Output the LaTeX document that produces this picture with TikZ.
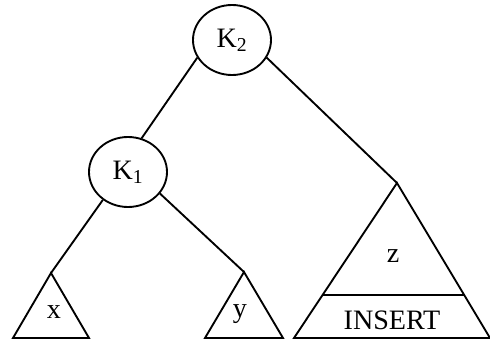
\documentclass[tikz,border=0pt]{standalone}
\usepackage{fontspec}
\setmainfont{Liberation Serif}
\usetikzlibrary{shapes.geometric,calc}

\begin{document}
\begin{tikzpicture}[
    x=0.03cm, y=-0.03cm,
    key/.style={ellipse, draw, line width=1.6pt, inner sep=0pt, minimum width=2.34cm, minimum height=2.1cm, font=\fontsize{24}{28}\selectfont},
    edge/.style={line width=1.6pt},
    subtree/.style={line width=1.6pt, line join=miter},
    lbl/.style={font=\fontsize{24}{28}\selectfont},
]
\useasboundingbox (0,0) rectangle (490,341);

% ---- keys ----
\node[key] (k2) at (232,40) {K\textsubscript{2}};
\node[key] (k1) at (128,172) {K\textsubscript{1}};

% ---- subtree x ----
\coordinate (xtop) at (51,273);
\coordinate (xleft) at (13,338);
\coordinate (xright) at (89,338);
\draw[subtree] (xtop) -- (xleft) -- (xright) -- cycle;
\node[lbl] (x) at (54,312) {x};

% ---- subtree y ----
\coordinate (ytop) at (244,272);
\coordinate (yleft) at (205,338);
\coordinate (yright) at (283,338);
\draw[subtree] (ytop) -- (yleft) -- (yright) -- cycle;
\node[lbl] (y) at (240,314) {y};

% ---- subtree z with the inserted level ----
\coordinate (ztop) at (397,183);
\coordinate (zleft) at (294,338);
\coordinate (zright) at (490,338);
\draw[subtree] (ztop) -- (zleft) -- (zright) -- cycle;
\draw[edge] ($(ztop)!0.72!(zleft)$) -- ($(ztop)!0.72!(zright)$);
\node[lbl] (z) at (393,256) {z};
\node[lbl] (insert) at (392,320) {INSERT};

% ---- edges ----
\draw[edge] (k2.-153) -- (k1.68);
\draw[edge] (k2.-27) -- (ztop);
\draw[edge] (k1.-132) -- (xtop);
\draw[edge] (k1.-34) -- (ytop);

\end{tikzpicture}
\end{document}
